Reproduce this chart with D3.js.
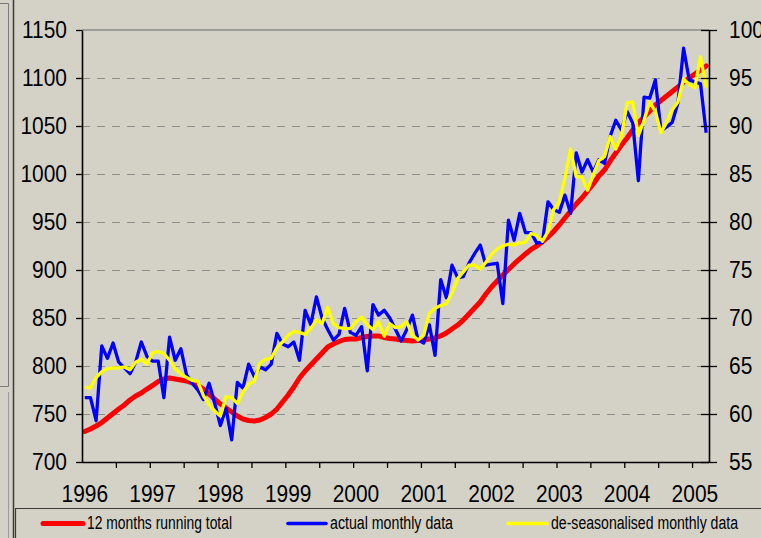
<!DOCTYPE html>
<html>
<head>
<meta charset="utf-8">
<script src="https://cdn.jsdelivr.net/npm/d3@7"></script>
<style>
  body { margin: 0; background: #d4d2c7; }
  svg { display: block; }
</style>
</head>
<body>
<div id="container"></div>
<script>
// year labels on the category axis (one every 12 months, Jan 1996 .. Mar 2005)
var yearLabels = ["1996", "1997", "1998", "1999", "2000", "2001", "2002", "2003", "2004", "2005"];

// 12 months running total (left axis)
var runningTotal = [
  731.8, 734.4, 737.5, 741.1, 745.8, 750.5, 755.2, 759.4, 764.6, 768.8, 771.9, 776.0,
  779.7, 783.9, 786.5, 787.5, 786.5, 785.4, 784.4, 782.3, 779.7, 776.0, 770.8, 765.6,
  760.4, 756.3, 752.1, 747.9, 744.8, 743.2, 742.7, 743.8, 746.4, 750.0, 755.2, 762.5,
  769.8, 778.1, 787.5, 794.8, 801.0, 807.3, 813.5, 819.8, 822.9, 825.5, 827.6, 828.1,
  828.1, 829.7, 830.7, 831.3, 831.3, 829.7, 828.6, 828.1, 827.1, 826.6, 826.0, 826.6,
  827.1, 828.1, 829.2, 831.3, 834.4, 838.5, 842.7, 847.9, 854.2, 860.4, 866.7, 875.0,
  882.3, 888.5, 894.8, 900.5, 906.3, 911.5, 916.7, 921.4, 925.0, 929.2, 934.4, 940.1,
  946.9, 954.2, 961.5, 968.8, 975.0, 982.3, 989.6, 997.9, 1004.2, 1013.5, 1021.9, 1030.2,
  1037.5, 1045.8, 1053.1, 1059.4, 1065.6, 1071.9, 1076.6, 1081.3, 1086.0, 1090.6, 1095.8, 1100.0,
  1104.2, 1108.3, 1112.5
];

// actual monthly data (right axis)
var actualMonthly = [
  61.7, 61.7, 59.3, 67.1, 65.8, 67.4, 65.4, 64.8, 64.2, 65.4, 67.5, 66.0,
  65.5, 65.5, 61.7, 68.0, 65.6, 66.8, 64.1, 63.2, 62.5, 61.5, 63.2, 61.1,
  58.8, 60.6, 57.3, 63.3, 62.7, 65.2, 63.9, 64.9, 64.6, 65.2, 68.4, 67.3,
  67.0, 67.5, 65.6, 70.8, 69.3, 72.2, 70.0, 68.8, 67.7, 68.3, 71.0, 68.5,
  68.2, 69.1, 64.5, 71.4, 70.3, 70.8, 70.0, 68.8, 67.6, 68.8, 70.3, 67.7,
  67.4, 69.3, 66.1, 74.0, 72.1, 75.5, 74.2, 74.3, 75.7, 76.7, 77.6, 75.5,
  75.6, 75.7, 71.5, 80.2, 78.1, 80.9, 78.9, 78.9, 77.8, 77.9, 82.1, 81.3,
  81.0, 82.8, 80.9, 87.2, 85.2, 86.5, 85.2, 86.5, 86.1, 88.9, 90.6, 89.6,
  91.5, 90.3, 84.3, 93.0, 92.9, 94.8, 89.5, 89.9, 90.4, 92.4, 98.1, 94.8,
  94.6, 94.4, 89.3
];

// de-seasonalised monthly data (right axis)
var deseasonalised = [
  62.8, 62.7, 63.8, 64.4, 64.7, 64.8, 64.8, 64.9, 64.6, 65.4, 65.7, 65.2,
  66.4, 66.5, 66.3, 65.6, 64.7, 64.2, 63.8, 63.5, 63.4, 61.9, 61.0, 60.3,
  59.8, 61.8, 61.7, 61.1, 62.3, 63.1, 63.4, 65.3, 65.7, 65.8, 66.9, 67.5,
  68.2, 68.6, 68.5, 68.3, 68.9, 69.8, 69.4, 71.1, 69.4, 69.0, 68.9, 68.9,
  69.6, 70.1, 69.3, 68.8, 69.6, 68.1, 69.4, 69.0, 69.1, 69.6, 68.2, 67.7,
  68.2, 70.5, 71.0, 71.3, 71.5, 72.6, 74.1, 74.8, 75.5, 75.5, 75.1, 75.8,
  76.6, 77.2, 77.5, 77.7, 77.6, 77.8, 77.9, 78.8, 78.6, 78.0, 79.0, 81.3,
  82.1, 84.6, 87.6, 84.7, 84.7, 83.3, 84.9, 86.4, 86.8, 88.9, 87.6, 88.9,
  92.4, 92.5, 89.0, 90.6, 92.5, 91.5, 89.3, 90.4, 91.7, 92.5, 94.9, 94.3,
  94.0, 97.2, 94.0
];

var leftTicks = [700, 750, 800, 850, 900, 950, 1000, 1050, 1100, 1150];
var rightTicks = [55, 60, 65, 70, 75, 80, 85, 90, 95, 100];
var legendNames = ["12 months running total", "actual monthly data", "de-seasonalised monthly data"];

var w = 761, h = 538;
var plotL = 82, plotR = 709, plotT = 30, plotB = 462;
var n = runningTotal.length;

var svg = d3.select("#container").append("svg")
    .attr("width", w)
    .attr("height", h);

svg.append("rect").attr("width", w).attr("height", h).attr("fill", "#d4d2c7");

var x = d3.scaleBand().domain(d3.range(n)).range([plotL, plotR]);
var xEdge = d3.scaleLinear().domain([0, n]).range([plotL, plotR]);
var yL = d3.scaleLinear().domain([700, 1150]).range([plotB, plotT]);
var yR = d3.scaleLinear().domain([55, 100]).range([plotB, plotT]);

function cx(i) { return x(i) + x.bandwidth() / 2; }

// window frame bits on the left
svg.append("path").attr("d", "M0,3.5H8.5V386.5H0").attr("fill", "none").attr("stroke", "#7a7a7a");
svg.append("line").attr("x1", 8.5).attr("x2", 8.5).attr("y1", 392).attr("y2", h).attr("stroke", "#9a9a9a");
svg.append("line").attr("x1", 13.5).attr("x2", 13.5).attr("y1", 0).attr("y2", h)
    .attr("stroke", "#3a3a3a").attr("stroke-width", 1.5);

// gridlines
svg.append("g").selectAll("line")
    .data(leftTicks.slice(1, -1))
    .enter().append("line")
    .attr("x1", plotL).attr("x2", plotR)
    .attr("y1", function(d) { return Math.round(yL(d)) + 0.5; })
    .attr("y2", function(d) { return Math.round(yL(d)) + 0.5; })
    .attr("stroke", "#8e8e8a")
    .attr("stroke-width", 1.2)
    .attr("stroke-dasharray", "8,7");

// top border of plot area
svg.append("line").attr("x1", plotL).attr("x2", plotR).attr("y1", plotT).attr("y2", plotT)
    .attr("stroke", "#8a8a88").attr("stroke-width", 1.6);

// series
var lineL = d3.line().x(function(d, i) { return cx(i); }).y(function(d) { return yL(d); });
var lineR = d3.line().x(function(d, i) { return cx(i); }).y(function(d) { return yR(d); });

svg.append("path").datum(runningTotal).attr("d", lineL)
    .attr("fill", "none").attr("stroke", "#ff0000").attr("stroke-width", 5)
    .attr("stroke-linejoin", "round").attr("stroke-linecap", "round");
svg.append("path").datum(actualMonthly).attr("d", lineR)
    .attr("fill", "none").attr("stroke", "#0000ff").attr("stroke-width", 3.3)
    .attr("stroke-linejoin", "round");
svg.append("path").datum(deseasonalised).attr("d", lineR)
    .attr("fill", "none").attr("stroke", "#ffff00").attr("stroke-width", 3.3)
    .attr("stroke-linejoin", "round");

// axes
var fontFam = "'Liberation Sans', Arial, sans-serif";

var gL = svg.append("g").attr("transform", "translate(" + plotL + ",0)")
    .call(d3.axisLeft(yL).tickValues(leftTicks).tickSize(6).tickSizeOuter(0).tickPadding(9)
        .tickFormat(d3.format("d")));
var gR = svg.append("g").attr("transform", "translate(" + plotR + ",0)")
    .call(d3.axisRight(yR).tickValues(rightTicks).tickSize(8).tickSizeOuter(0).tickPadding(12));
gR.selectAll(".tick line").attr("x1", -8);

var gB = svg.append("g").attr("transform", "translate(0," + plotB + ")")
    .call(d3.axisBottom(xEdge).tickValues(d3.range(6, n, 6)).tickSize(6).tickSizeOuter(0).tickFormat(""));
gB.select(".domain").attr("d", "M" + plotL + ",0.5H" + plotR);

var gY = svg.append("g").attr("transform", "translate(0," + plotB + ")")
    .call(d3.axisBottom(x).tickValues(d3.range(0, n, 12)).tickSize(0).tickPadding(24)
        .tickFormat(function(i) { return yearLabels[i / 12]; }));
gY.select(".domain").remove();

[gL, gR, gB].forEach(function(g) {
  g.selectAll("path.domain").attr("stroke", "#000").attr("stroke-width", 1.6);
  g.selectAll(".tick line").attr("stroke", "#000").attr("stroke-width", 1.3);
});

svg.selectAll(".tick text")
    .attr("font-family", fontFam)
    .attr("font-size", 23)
    .attr("fill", "#000")
    .each(function() {
      var len = this.getComputedTextLength();
      d3.select(this).attr("textLength", len * 0.91).attr("lengthAdjust", "spacingAndGlyphs");
    });

// legend
var lg = svg.append("g");
lg.append("path").attr("d", "M15.5," + h + "V508.5H" + w)
    .attr("fill", "none").attr("stroke", "#3a3a3a").attr("stroke-width", 1.2);

var legendColors = ["#ff0000", "#0000ff", "#ffff00"];
var legendSample = [[43, 83, 5], [288, 326, 3.6], [508, 547, 3.6]];
var legendText = [[87, 145], [330, 123], [551, 187]];

legendNames.forEach(function(name, i) {
  lg.append("line")
      .attr("x1", legendSample[i][0]).attr("x2", legendSample[i][1])
      .attr("y1", 523.5).attr("y2", 523.5)
      .attr("stroke", legendColors[i]).attr("stroke-width", legendSample[i][2])
      .attr("stroke-linecap", "round");
  lg.append("text")
      .attr("x", legendText[i][0]).attr("y", 528.5)
      .attr("font-family", "'Liberation Sans Narrow', " + fontFam)
      .attr("font-size", 18)
      .attr("textLength", legendText[i][1])
      .attr("lengthAdjust", "spacingAndGlyphs")
      .attr("fill", "#000")
      .text(name);
});
</script>
</body>
</html>
